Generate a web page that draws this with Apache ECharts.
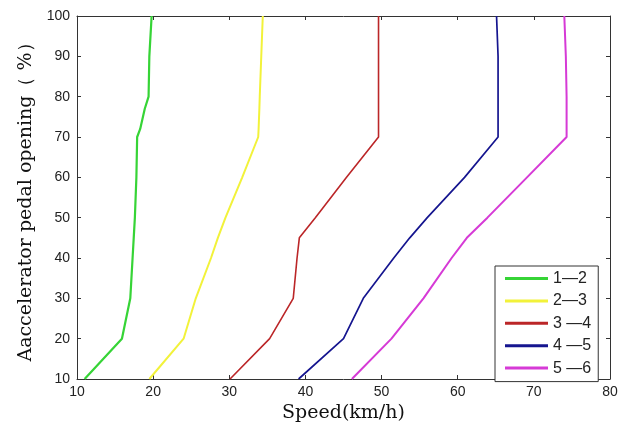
<!DOCTYPE html>
<html>
<head>
<meta charset="utf-8">
<script src="https://cdn.jsdelivr.net/npm/echarts@6/dist/echarts.min.js"></script>
<style>
  html, body { margin: 0; padding: 0; background: #fff; }
  #chart { width: 626px; height: 428px; }
</style>
</head>
<body>
<div id="chart"></div>
<script>
// Accelerator pedal opening (%) at which each upshift happens
const openings = [10, 20, 30, 40, 45, 50, 60, 70, 72, 77, 80, 90, 100];

// Shift speed (km/h) for each gear change, one value per opening
const shift12 = [11.0, 15.9, 17.0, 17.3, 17.45, 17.6, 17.8, 17.9, 18.3, 18.9, 19.4, 19.5, 19.8];
const shift23 = [19.5, 24.0, 25.6, 27.6, 28.5, 29.5, 31.7, 33.8, 33.85, 33.95, 34.0, 34.2, 34.4];
const shift34 = [30.1, 35.3, 38.4, 38.9, 39.2, 41.3, 45.4, 49.6, 49.6, 49.6, 49.6, 49.6, 49.6];
const shift45 = [39.1, 45.0, 47.6, 51.6, 53.7, 56.0, 60.9, 65.3, 65.3, 65.3, 65.3, 65.3, 65.1];
const shift56 = [46.1, 51.3, 55.5, 59.2, 61.2, 63.9, 69.1, 74.3, 74.3, 74.3, 74.3, 74.2, 74.0];

const seriesNames = ['1—2', '2—3', '3 —4', '4 —5', '5 —6'];
const seriesValues = [shift12, shift23, shift34, shift45, shift56];
const seriesColors = ['#36d436', '#f2f23a', '#bb2628', '#15158f', '#d63ad6'];
const seriesWidths = [2.2, 2, 1.6, 1.7, 2];

const chart = echarts.init(document.getElementById('chart'));

const tickFont = { fontFamily: '"Liberation Sans", Arial, sans-serif', fontSize: 14, color: '#222' };
const nameFont = { fontFamily: '"DejaVu Serif", "Liberation Serif", serif', fontSize: 19, color: '#111' };
const axisLine = { show: true, lineStyle: { color: '#333', width: 1 } };
const ticks = { show: true, inside: true, length: 4, lineStyle: { color: '#333', width: 1 } };

chart.setOption({
  animation: false,
  backgroundColor: '#fff',
  grid: { left: 77, right: 16, top: 16, bottom: 44 },
  xAxis: [
    {
      type: 'value', min: 10, max: 80, interval: 10,
      name: 'Speed(km/h)', nameLocation: 'middle', nameGap: 25,
      nameTextStyle: nameFont,
      axisLine: axisLine, axisTick: ticks,
      axisLabel: Object.assign({ margin: 6 }, tickFont),
      splitLine: { show: false }
    },
    {
      type: 'value', min: 10, max: 80, interval: 10, position: 'top',
      axisLine: axisLine, axisTick: ticks,
      axisLabel: { show: false }, splitLine: { show: false }
    }
  ],
  yAxis: [
    {
      type: 'value', min: 10, max: 100, interval: 10,
      name: 'Aaccelerator pedal opening（ %）', nameLocation: 'middle', nameGap: 40,
      nameRotate: 90,
      nameTextStyle: nameFont,
      axisLine: axisLine, axisTick: ticks,
      axisLabel: Object.assign({ margin: 7 }, tickFont),
      splitLine: { show: false }
    },
    {
      type: 'value', min: 10, max: 100, interval: 10, position: 'right',
      axisLine: axisLine, axisTick: ticks,
      axisLabel: { show: false }, splitLine: { show: false }
    }
  ],
  legend: {
    data: seriesNames,
    orient: 'vertical',
    left: 495, top: 266,
    padding: [4.5, 7, 5.5, 10],
    itemGap: 6.4,
    itemWidth: 43, itemHeight: 3,
    itemTextGap: 8,
    icon: 'rect',
    backgroundColor: '#fff',
    borderColor: '#333', borderWidth: 1, borderRadius: 0,
    textStyle: { fontFamily: '"Liberation Sans", Arial, sans-serif', fontSize: 16, color: '#222' }
  },
  series: seriesNames.map((name, i) => ({
    name: name,
    type: 'line',
    xAxisIndex: 0, yAxisIndex: 0,
    showSymbol: false,
    symbol: 'none',
    color: seriesColors[i],
    lineStyle: { color: seriesColors[i], width: seriesWidths[i] },
    data: seriesValues[i].map((v, k) => [v, openings[k]])
  }))
});
</script>
</body>
</html>
